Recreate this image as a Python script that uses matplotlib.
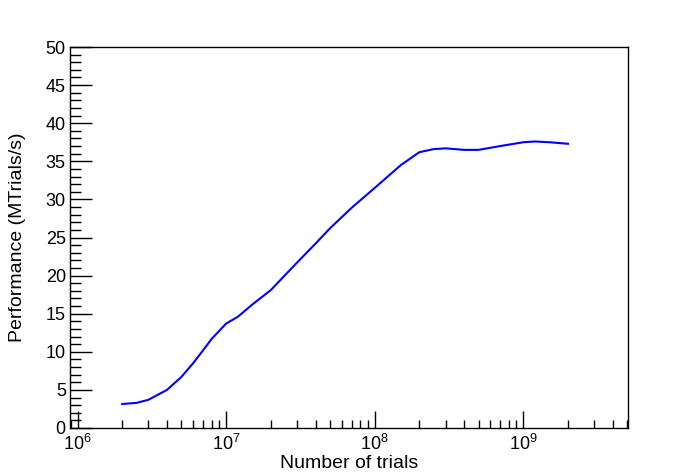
import numpy as np
import matplotlib
matplotlib.use("Agg")
import matplotlib.pyplot as plt
from matplotlib.ticker import LogLocator, MultipleLocator, LogFormatterMathtext

plt.rcParams['font.family'] = ['Liberation Sans', 'DejaVu Sans']
plt.rcParams['mathtext.fontset'] = 'custom'
plt.rcParams['mathtext.rm'] = 'Liberation Sans'
plt.rcParams['mathtext.it'] = 'Liberation Sans'

# dati
trials = [2e6, 2.5e6, 3e6, 4e6, 5e6, 6e6, 7e6, 8e6, 1e7, 1.2e7, 1.5e7, 2e7, 3e7,
          4e7, 5e7, 7e7, 1e8, 1.5e8, 2e8, 2.5e8, 3e8, 4e8, 5e8, 7e8, 1e9,
          1.2e9, 1.5e9, 2e9]
perf = [3.15, 3.3, 3.7, 5.0, 6.7, 8.5, 10.2, 11.7, 13.7, 14.6, 16.2, 18.1, 21.7,
        24.2, 26.2, 28.9, 31.5, 34.5, 36.2, 36.6, 36.7, 36.5, 36.5, 37.0, 37.5,
        37.6, 37.5, 37.3]

fig = plt.figure(figsize=(6.98, 4.76), dpi=100)
ax = fig.add_axes([70/698, 1-428/476, 558/698, 381/476])

ax.plot(trials, perf, color='#0000ff', lw=1.5)

ax.set_xscale('log')
ax.set_xlim(8.9e5, 5.07e9)
ax.set_ylim(0, 50)

ax.xaxis.set_major_locator(LogLocator(base=10, numticks=20))
ax.xaxis.set_minor_locator(LogLocator(base=10, subs=np.arange(2, 10), numticks=50))
ax.xaxis.set_major_formatter(LogFormatterMathtext())
ax.yaxis.set_major_locator(MultipleLocator(5))
ax.yaxis.set_minor_locator(MultipleLocator(1))

ax.tick_params(axis='both', which='both', direction='in', top=False, right=False,
               labelsize=13, width=1, colors='black')
ax.tick_params(axis='y', which='major', length=16, pad=3)
ax.tick_params(axis='y', which='minor', length=8)
ax.tick_params(axis='x', which='major', length=12, pad=4)
ax.tick_params(axis='x', which='minor', length=6)

for s in ax.spines.values():
    s.set_linewidth(1)

ax.set_xlabel("Number of trials", fontsize=14, labelpad=1)
ax.set_ylabel("Performance (MTrials/s)", fontsize=14, labelpad=14)

fig.savefig("out.png", dpi=100)
